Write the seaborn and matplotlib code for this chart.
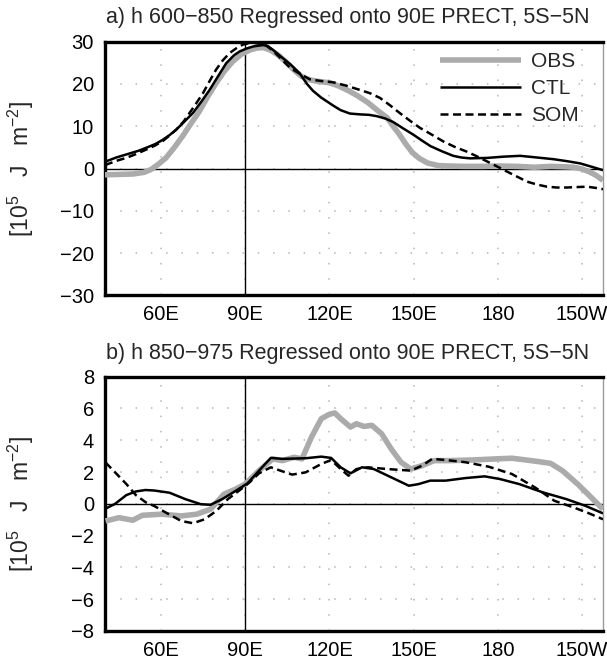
import numpy as np
import pandas as pd
import matplotlib
matplotlib.use("Agg")
import matplotlib.pyplot as plt
import seaborn as sns

# ---------------- data ----------------
# Panel a) h 600-850
a_obs_lon = [40, 45, 50, 54, 56.5, 59, 61.7, 64.5, 67.6, 70.5, 73.6, 76.5, 79.6, 82.5, 85.5, 88.5,
             91.5, 94, 96.5, 99, 101.8, 104.5, 107.4, 110, 112.9, 116, 119.9, 123, 126.8, 130,
             133.7, 137, 140.6, 142.7, 144.8, 147, 149.5, 152, 155, 158.7, 162, 168, 175, 180,
             187, 193, 199, 204, 207, 210, 212.7, 215, 217.5]
a_obs_val = [-1.5, -1.4, -1.3, -0.9, -0.2, 1.0, 2.5, 4.8, 7.6, 10.5, 13.5, 16.9, 20.2, 23.0, 25.3, 27.0,
             28.0, 28.5, 28.6, 28.0, 26.8, 25.2, 23.3, 21.8, 21.0, 20.6, 20.3, 19.6, 18.4, 17.2,
             15.6, 13.8, 12.0, 10.0, 8.2, 6.0, 3.8, 2.4, 1.3, 0.7, 0.6, 0.5, 0.5, 0.6,
             0.5, 0.3, 0.5, 0.4, 0.3, -0.1, -0.8, -1.6, -2.8]

a_ctl_lon = [40, 44, 48, 52, 55.8, 58, 60.6, 63, 65.4, 68, 71.3, 74, 77.3, 80, 83.2, 86, 88, 90.5,
             93, 96.3, 98, 100, 103, 106, 109.4, 112, 114.1, 117, 121.3, 124, 127.3, 131, 134,
             136.8, 140, 142.7, 146, 149.9, 153, 156, 160, 164.1, 167, 170.1, 176.1, 182, 188,
             194, 199.9, 205, 209.4, 213, 217.5]
a_ctl_val = [1.6, 2.6, 3.4, 4.2, 5.2, 5.8, 6.8, 7.9, 9.2, 10.9, 13.1, 15.5, 18.6, 21.5, 24.9, 26.8,
             27.7, 28.4, 28.9, 29.2, 29.0, 28.0, 26.3, 24.7, 22.5, 20.0, 18.4, 16.8, 14.9, 13.8,
             13.0, 12.8, 12.7, 12.4, 11.8, 11.0, 9.6, 8.0, 6.6, 5.3, 4.1, 3.0, 2.6, 2.4, 2.5,
             2.8, 3.0, 2.6, 2.2, 1.7, 1.2, 0.5, -0.4]

a_som_lon = [40, 44, 47.5, 51, 55.8, 58, 60.6, 63, 65.4, 68, 70.1, 72.5, 74.9, 77.3, 79.6, 82, 84.4,
             86.7, 89.1, 91, 92.7, 95, 97, 100, 103, 106, 109.4, 113, 117, 121.3, 126, 130.8,
             134.5, 138, 141.5, 145.1, 148.7, 152.3, 156.5, 160.6, 164.7, 168.9, 172.5, 176.1,
             179.7, 183.2, 186.8, 190.4, 194, 197.5, 201, 204.6, 208, 211.8, 215, 217.5]
a_som_val = [0.8, 1.8, 2.5, 3.4, 4.8, 5.5, 6.5, 7.8, 9.2, 11.1, 13.1, 15.4, 17.8, 20.7, 23.4, 25.6,
             27.3, 28.4, 29.3, 29.6, 29.8, 29.5, 29.3, 27.8, 25.8, 23.8, 22.4, 21.1, 20.7, 20.4,
             19.6, 18.6, 17.8, 16.7, 15.0, 13.1, 11.3, 9.6, 8.0, 6.4, 5.1, 4.0, 2.9, 1.7, 0.5,
             -0.7, -1.9, -3.1, -3.8, -4.3, -4.5, -4.5, -4.4, -4.3, -4.6, -4.9]

# Panel b) h 850-975
b_obs_lon = [40.2, 45, 49.9, 53.3, 60.3, 67.2, 72.7, 77.6, 82.4, 86.6, 89.9, 94.9, 99.8, 103.2,
             107.4, 110.2, 113.6, 117.1, 119.9, 121.9, 124, 127.5, 129.6, 132.3, 135.1, 138.6,
             142, 145.5, 149, 153.1, 157.3, 162.8, 171.1, 179.4, 185, 191.9, 198.8, 203, 208.5,
             212.7, 217.5]
b_obs_val = [-1.08, -0.87, -1.03, -0.72, -0.65, -0.76, -0.65, -0.34, 0.61, 0.93, 1.24, 2.09, 2.83,
             2.72, 2.93, 2.83, 4.2, 5.36, 5.63, 5.72, 5.36, 4.83, 5.04, 4.87, 4.94, 4.41, 3.46,
             2.62, 2.19, 2.41, 2.72, 2.72, 2.76, 2.83, 2.87, 2.72, 2.55, 2.09, 1.24, 0.51, -0.34]

b_ctl_lon = [40.2, 43.6, 47.6, 51, 54.4, 57.5, 63, 68.6, 74.1, 77.6, 81.8, 86.6, 90.8, 94.9, 99.1,
             103.2, 111.5, 117.1, 120.6, 124, 127.5, 131.6, 135.8, 142, 148.3, 151.7, 155.9, 161.4,
             168.4, 175.3, 180.8, 187.7, 196.1, 204.4, 211.3, 217.5]
b_ctl_val = [-0.3, 0.0, 0.55, 0.78, 0.87, 0.84, 0.7, 0.3, -0.02, -0.06, 0.3, 0.82, 1.29, 2.09,
             2.89, 2.83, 2.87, 2.97, 2.89, 2.3, 1.92, 2.3, 2.19, 1.67, 1.14, 1.24, 1.46, 1.46,
             1.62, 1.73, 1.56, 1.24, 0.72, 0.3, -0.13, -0.6]

b_som_lon = [40.2, 43.6, 47.6, 51, 54.5, 57.5, 61.7, 67.2, 71.4, 75.5, 79.7, 83.8, 88, 91.5, 94.9,
             99.1, 102.5, 106.7, 111.5, 117.1, 120.6, 124, 126.8, 129.6, 133.7, 140.6, 149, 153.1,
             156.6, 161.4, 168.4, 176.7, 185, 193.3, 200.2, 207.1, 212.7, 217.5]
b_som_val = [2.6, 1.98, 1.25, 0.55, 0.1, -0.13, -0.55, -1.08, -1.22, -0.97, -0.44, 0.3, 0.86, 1.35,
             1.92, 2.3, 2.09, 1.84, 1.98, 2.51, 2.76, 2.19, 1.77, 2.19, 2.3, 2.19, 2.09, 2.41,
             2.83, 2.76, 2.62, 2.34, 1.88, 1.03, 0.19, -0.23, -0.61, -0.97]

series_names = ["OBS", "CTL", "SOM"]
xtick_pos = [60, 90, 120, 150, 180, 210]
xtick_labels = ["60E", "90E", "120E", "150E", "180", "150W"]
titles = ["a) h 600\u2212850 Regressed onto 90E PRECT, 5S\u22125N",
          "b) h 850\u2212975 Regressed onto 90E PRECT, 5S\u22125N"]
ylabel = r"[10$^{\mathregular{5}}$   J   m$^{\mathregular{-2}}$]"

# ---------------- style ----------------
sns.set_style("white")
plt.rcParams["font.family"] = ["Liberation Sans", "DejaVu Sans"]
plt.rcParams["mathtext.fontset"] = "custom"
plt.rcParams["mathtext.rm"] = "Liberation Sans"
plt.rcParams["mathtext.it"] = "Liberation Sans"
plt.rcParams["mathtext.bf"] = "Liberation Sans"

FS = 14.5
W, H = 607, 663
fig = plt.figure(figsize=(W / 100, H / 100), dpi=100)
fig.patch.set_facecolor("white")

left_px, right_px = 105, 603
ax1 = fig.add_axes([left_px / W, 1 - 295.3 / H, (right_px - left_px) / W, (295.3 - 41.7) / H])
ax2 = fig.add_axes([left_px / W, 1 - 631 / H, (right_px - left_px) / W, (631 - 376.7) / H])

styles = {
    "OBS": dict(color="#ababab", linewidth=4.0, linestyle="-"),
    "CTL": dict(color="black", linewidth=1.8, linestyle="-"),
    "SOM": dict(color="black", linewidth=1.8, linestyle=(0, (3.2, 1.8))),
}

panels = [
    (ax1, {"OBS": (a_obs_lon, a_obs_val), "CTL": (a_ctl_lon, a_ctl_val), "SOM": (a_som_lon, a_som_val)},
     (-30, 30), np.arange(-30, 31, 10), titles[0], 18),
    (ax2, {"OBS": (b_obs_lon, b_obs_val), "CTL": (b_ctl_lon, b_ctl_val), "SOM": (b_som_lon, b_som_val)},
     (-8, 8), np.arange(-8, 9, 2), titles[1], 353),
]

for ax, data, ylim, yticks, title, title_y in panels:
    ax.set_xlim(40, 217.5)
    ax.set_ylim(*ylim)
    ax.set_xticks(xtick_pos)
    ax.set_xticklabels(xtick_labels)
    ax.set_yticks(yticks)
    # dotted grid
    for xv in xtick_pos:
        ax.axvline(xv, color="#b5b5b5", lw=1.1, linestyle=(0, (1, 9)), zorder=0)
    for yv in yticks[1:-1]:
        ax.axhline(yv, color="#b5b5b5", lw=1.1, linestyle=(0, (1, 9)), zorder=0)
    ax.axhline(0, color="black", lw=1.0, zorder=1)
    ax.axvline(90, color="black", lw=1.0, zorder=1)
    for name in series_names:
        lon, val = data[name]
        df = pd.DataFrame({"lon": lon, "val": val})
        sns.lineplot(data=df, x="lon", y="val", ax=ax, label=name, zorder=3,
                     solid_capstyle="butt", **styles[name])
    ax.set_xlabel("")
    ax.set_ylabel("")
    for side in ["left", "bottom", "top"]:
        ax.spines[side].set_linewidth(2.4)
        ax.spines[side].set_color("black")
    ax.spines["right"].set_linewidth(1.0)
    ax.spines["right"].set_color("#9a9a9a")
    ax.tick_params(axis="both", which="major", direction="out", length=5.5, width=1.2,
                   labelsize=FS, color="black", labelcolor="black")
    ax.tick_params(axis="y", pad=2.5)
    ax.tick_params(axis="x", pad=1.5)
    ax.tick_params(right=False, top=False)
    if ax.get_legend() is not None:
        ax.get_legend().remove()
    fig.text(106 / W, 1 - title_y / H, title, ha="left", va="center", fontsize=15.5)
    pos = ax.get_position()
    fig.text(20.7 / W, (pos.y0 + pos.y1) / 2, ylabel, rotation=90, ha="center", va="center",
             fontsize=16.5)

handles, labels = ax1.get_legend_handles_labels()
leg = ax1.legend(handles[:3], labels[:3], loc="upper left", frameon=False,
                 bbox_to_anchor=(440 / W, 1 - 52 / H), bbox_transform=fig.transFigure,
                 borderaxespad=0, borderpad=0, handlelength=3.9, handletextpad=0.48,
                 labelspacing=0.38, fontsize=15)

fig.savefig("out.png", dpi=100, facecolor="white")
